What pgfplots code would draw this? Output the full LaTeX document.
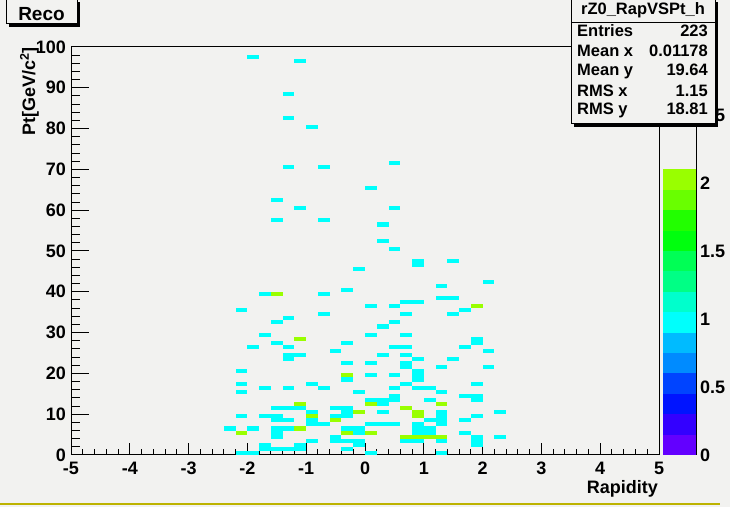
\documentclass[border=0pt]{standalone}
\usepackage{pgfplots}
\pgfplotsset{compat=1.18}
\usepackage{fontspec}
\setmainfont{Liberation Sans}
\definecolor{bg}{RGB}{242,242,240}
\definecolor{one}{RGB}{0,255,252}
\definecolor{two}{RGB}{153,255,0}
\definecolor{p0}{RGB}{99,0,255}
\definecolor{p1}{RGB}{51,0,255}
\definecolor{p2}{RGB}{0,20,255}
\definecolor{p3}{RGB}{0,68,255}
\definecolor{p4}{RGB}{0,139,255}
\definecolor{p5}{RGB}{0,187,255}
\definecolor{p6}{RGB}{0,255,252}
\definecolor{p7}{RGB}{0,255,204}
\definecolor{p8}{RGB}{0,255,133}
\definecolor{p9}{RGB}{0,255,85}
\definecolor{p10}{RGB}{0,255,14}
\definecolor{p11}{RGB}{34,255,0}
\definecolor{p12}{RGB}{105,255,0}
\definecolor{p13}{RGB}{153,255,0}
\definecolor{winline}{RGB}{189,179,0}
\pgfdeclareplotmark{cell}{%
  \pgfpathrectangle{\pgfpoint{-5.88bp}{-2.04bp}}{\pgfpoint{11.76bp}{4.08bp}}%
  \pgfusepathqfill}
\newcommand{\tl}{\fontsize{18bp}{21bp}\selectfont\bfseries}
\newcommand{\st}{\fontsize{16.5bp}{19bp}\selectfont\bfseries}
\begin{document}
\begin{tikzpicture}
\fill[bg] (0,0) rectangle (730bp,507bp);
\useasboundingbox (0,0) rectangle (730bp,507bp);
\draw[winline, line width=2bp] (0,3bp) -- (720bp,3bp);
\begin{axis}[at={(71bp,52bp)}, anchor=south west, scale only axis,
  width=588bp, height=408bp,
  xmin=-5, xmax=5, ymin=0, ymax=100,
  xtick={-5,-4,...,5}, ytick={0,10,...,100},
  minor x tick num=4, minor y tick num=4,
  xtick pos=left, ytick pos=left, tick align=inside,
  axis line style={line width=1bp, black},
  every tick/.style={black, line width=1bp},
  xtick style={/pgfplots/major tick length=12.2bp,/pgfplots/minor tick length=6.1bp},
  ytick style={/pgfplots/major tick length=17.6bp,/pgfplots/minor tick length=8.8bp},
  /pgf/number format/assume math mode=true,
  xticklabel style={font=\tl, anchor=north, yshift=-7bp, inner sep=0pt},
  yticklabel style={font=\tl, anchor=east, xshift=-5bp, inner sep=0pt},
  clip=false]
\addplot[only marks, mark=cell, mark options={fill=one, draw=none}] table[row sep=\\] {
x y\\
-2.1 0.5\\ -1.9 0.5\\ 0.1 0.5\\ 1.3 0.5\\
-1.7 1.5\\ -1.5 1.5\\ -1.3 1.5\\ -1.1 1.5\\ -0.3 1.5\\
-1.7 2.5\\ -1.1 2.5\\ -0.1 2.5\\ 1.9 2.5\\
-0.9 3.5\\ -0.5 3.5\\ -0.3 3.5\\ -0.1 3.5\\ 0.7 3.5\\ 0.9 3.5\\ 1.3 3.5\\ 1.9 3.5\\
-1.5 4.5\\ -0.5 4.5\\ 1.9 4.5\\ 2.3 4.5\\
-1.5 5.5\\ -0.1 5.5\\ 0.9 5.5\\ 1.1 5.5\\ 1.7 5.5\\
-2.3 6.5\\ -1.9 6.5\\ -1.5 6.5\\ -1.3 6.5\\ -0.3 6.5\\ -0.1 6.5\\ 0.9 6.5\\ 1.1 6.5\\
-0.9 7.5\\ -0.7 7.5\\ 0.1 7.5\\ 0.3 7.5\\ 0.5 7.5\\ 0.9 7.5\\ 1.3 7.5\\
-1.5 8.5\\ -1.3 8.5\\ -0.9 8.5\\ 1.1 8.5\\ 1.3 8.5\\ 1.7 8.5\\
-2.1 9.5\\ -1.7 9.5\\ -1.5 9.5\\ -0.5 9.5\\ -0.3 9.5\\ 1.3 9.5\\ 1.9 9.5\\
-0.9 10.5\\ -0.3 10.5\\ 0.3 10.5\\ 1.3 10.5\\ 2.3 10.5\\
-1.5 11.5\\ -1.3 11.5\\ -1.1 11.5\\ -0.5 11.5\\ -0.3 11.5\\
0.3 12.5\\
0.1 13.5\\ 0.3 13.5\\ 0.5 13.5\\ 1.1 13.5\\ 1.9 13.5\\
0.5 14.5\\ 1.7 14.5\\ 1.9 14.5\\
-2.1 15.5\\ -0.1 15.5\\ 1.3 15.5\\
-1.7 16.5\\ -1.3 16.5\\ -0.7 16.5\\ 0.5 16.5\\ 0.9 16.5\\ 1.1 16.5\\
-2.1 17.5\\ -0.9 17.5\\ 0.7 17.5\\ 1.9 17.5\\
-0.3 18.5\\ 0.9 18.5\\
0.1 19.5\\ 0.5 19.5\\ 0.9 19.5\\
-2.1 20.5\\ 0.9 20.5\\
0.7 21.5\\ 1.3 21.5\\ 2.1 21.5\\
-0.3 22.5\\ 0.1 22.5\\ 0.7 22.5\\
-1.3 23.5\\ 0.9 23.5\\ 1.5 23.5\\
-1.3 24.5\\ -1.1 24.5\\ 0.3 24.5\\ 0.7 24.5\\
-0.5 25.5\\ 2.1 25.5\\
-1.9 26.5\\ -1.3 26.5\\ 0.5 26.5\\ 0.7 26.5\\ 1.7 26.5\\
-1.5 27.5\\ -0.3 27.5\\ 1.9 27.5\\
1.9 28.5\\
-1.7 29.5\\ 0.1 29.5\\ 0.7 29.5\\
0.3 31.5\\
-1.5 32.5\\ 0.5 32.5\\
-1.3 33.5\\
-0.7 34.5\\ 0.7 34.5\\ 1.5 34.5\\
-2.1 35.5\\ 1.7 35.5\\
0.1 36.5\\ 0.5 36.5\\
0.7 37.5\\ 0.9 37.5\\
1.3 38.5\\ 1.5 38.5\\
-1.7 39.5\\ -0.7 39.5\\
-0.3 40.5\\
1.3 41.5\\
2.1 42.5\\
-0.1 45.5\\
0.9 46.5\\
0.9 47.5\\ 1.5 47.5\\
0.5 50.5\\
0.3 52.5\\
0.3 56.5\\
-1.5 57.5\\ -0.7 57.5\\
-1.1 60.5\\ 0.5 60.5\\
-1.5 62.5\\
0.1 65.5\\
-1.3 70.5\\ -0.7 70.5\\
0.5 71.5\\
-0.9 80.5\\
-1.3 82.5\\
-1.3 88.5\\
-1.1 96.5\\
-1.9 97.5\\
};
\addplot[only marks, mark=cell, mark options={fill=two, draw=none}] table[row sep=\\] {
x y\\
0.7 4.5\\ 0.9 4.5\\ 1.1 4.5\\ 1.3 4.5\\
-2.1 5.5\\ -0.3 5.5\\ 0.1 5.5\\
-1.1 6.5\\
-0.5 8.5\\
-0.9 9.5\\ 0.9 9.5\\
-0.1 10.5\\ 0.9 10.5\\
0.7 11.5\\
-1.1 12.5\\ 0.1 12.5\\ 1.3 12.5\\
-0.3 19.5\\
-1.1 28.5\\
1.9 36.5\\
-1.5 39.5\\
};
\end{axis}
\begin{axis}[at={(663bp,52bp)}, anchor=south west, scale only axis,
  width=33bp, height=408bp,
  xmin=0, xmax=1, ymin=0, ymax=3,
  axis x line=none, axis y line*=right,
  axis line style={line width=1bp, black},
  ytick={0,0.5,1,1.5,2,2.5,3},
  yticklabels={0,0.5,1,1.5,2,2.5,{}},
  tick align=inside,
  every tick/.style={black, line width=1bp},
  major tick length=17.6bp,
  yticklabel style={font=\tl, anchor=west, xshift=4bp, inner sep=0pt},
  clip=false]
\addplot[fill=p0, draw=none] coordinates {(0,0) (1,0) (1,0.15) (0,0.15)} -- cycle;
\addplot[fill=p1, draw=none] coordinates {(0,0.15) (1,0.15) (1,0.3) (0,0.3)} -- cycle;
\addplot[fill=p2, draw=none] coordinates {(0,0.3) (1,0.3) (1,0.45) (0,0.45)} -- cycle;
\addplot[fill=p3, draw=none] coordinates {(0,0.45) (1,0.45) (1,0.6) (0,0.6)} -- cycle;
\addplot[fill=p4, draw=none] coordinates {(0,0.6) (1,0.6) (1,0.75) (0,0.75)} -- cycle;
\addplot[fill=p5, draw=none] coordinates {(0,0.75) (1,0.75) (1,0.9) (0,0.9)} -- cycle;
\addplot[fill=p6, draw=none] coordinates {(0,0.9) (1,0.9) (1,1.05) (0,1.05)} -- cycle;
\addplot[fill=p7, draw=none] coordinates {(0,1.05) (1,1.05) (1,1.2) (0,1.2)} -- cycle;
\addplot[fill=p8, draw=none] coordinates {(0,1.2) (1,1.2) (1,1.35) (0,1.35)} -- cycle;
\addplot[fill=p9, draw=none] coordinates {(0,1.35) (1,1.35) (1,1.5) (0,1.5)} -- cycle;
\addplot[fill=p10, draw=none] coordinates {(0,1.5) (1,1.5) (1,1.65) (0,1.65)} -- cycle;
\addplot[fill=p11, draw=none] coordinates {(0,1.65) (1,1.65) (1,1.8) (0,1.8)} -- cycle;
\addplot[fill=p12, draw=none] coordinates {(0,1.8) (1,1.8) (1,1.95) (0,1.95)} -- cycle;
\addplot[fill=p13, draw=none] coordinates {(0,1.95) (1,1.95) (1,2.1) (0,2.1)} -- cycle;
\end{axis}
% axis titles
\node[rotate=90, anchor=base east, font=\tl, inner sep=0pt] at (35bp,460bp) {Pt[GeV/c\textsuperscript{2}]};
\node[anchor=base east, font=\tl, inner sep=0pt] at (658bp,14bp) {Rapidity};
% title box
\fill[black] (9bp,480bp) rectangle (80bp,505bp);
\filldraw[fill=bg, draw=black, line width=1bp] (6bp,483bp) rectangle (77bp,508bp);
\node[anchor=base, font=\fontsize{19bp}{22bp}\selectfont\bfseries, inner sep=0pt] at (41.5bp,486bp) {Reco};
% stats box
\fill[black] (574bp,380bp) rectangle (718bp,505bp);
\filldraw[fill=bg, draw=black, line width=1bp] (571bp,383bp) rectangle (715bp,508bp);
\draw[line width=1bp] (571bp,484bp) -- (715bp,484bp);
\node[anchor=base, font=\st, inner sep=0pt] at (643bp,492bp) {rZ0\_RapVSPt\_h};
\node[anchor=base west, font=\st, inner sep=0pt] at (577bp,470bp) {Entries};
\node[anchor=base east, font=\st, inner sep=0pt] at (708bp,470bp) {223};
\node[anchor=base west, font=\st, inner sep=0pt] at (577bp,450bp) {Mean x};
\node[anchor=base east, font=\st, inner sep=0pt] at (708bp,450bp) {0.01178};
\node[anchor=base west, font=\st, inner sep=0pt] at (577bp,431bp) {Mean y};
\node[anchor=base east, font=\st, inner sep=0pt] at (708bp,431bp) {19.64};
\node[anchor=base west, font=\st, inner sep=0pt] at (577bp,410bp) {RMS x};
\node[anchor=base east, font=\st, inner sep=0pt] at (708bp,410bp) {1.15};
\node[anchor=base west, font=\st, inner sep=0pt] at (577bp,392bp) {RMS y};
\node[anchor=base east, font=\st, inner sep=0pt] at (708bp,392bp) {18.81};
\end{tikzpicture}
\end{document}
